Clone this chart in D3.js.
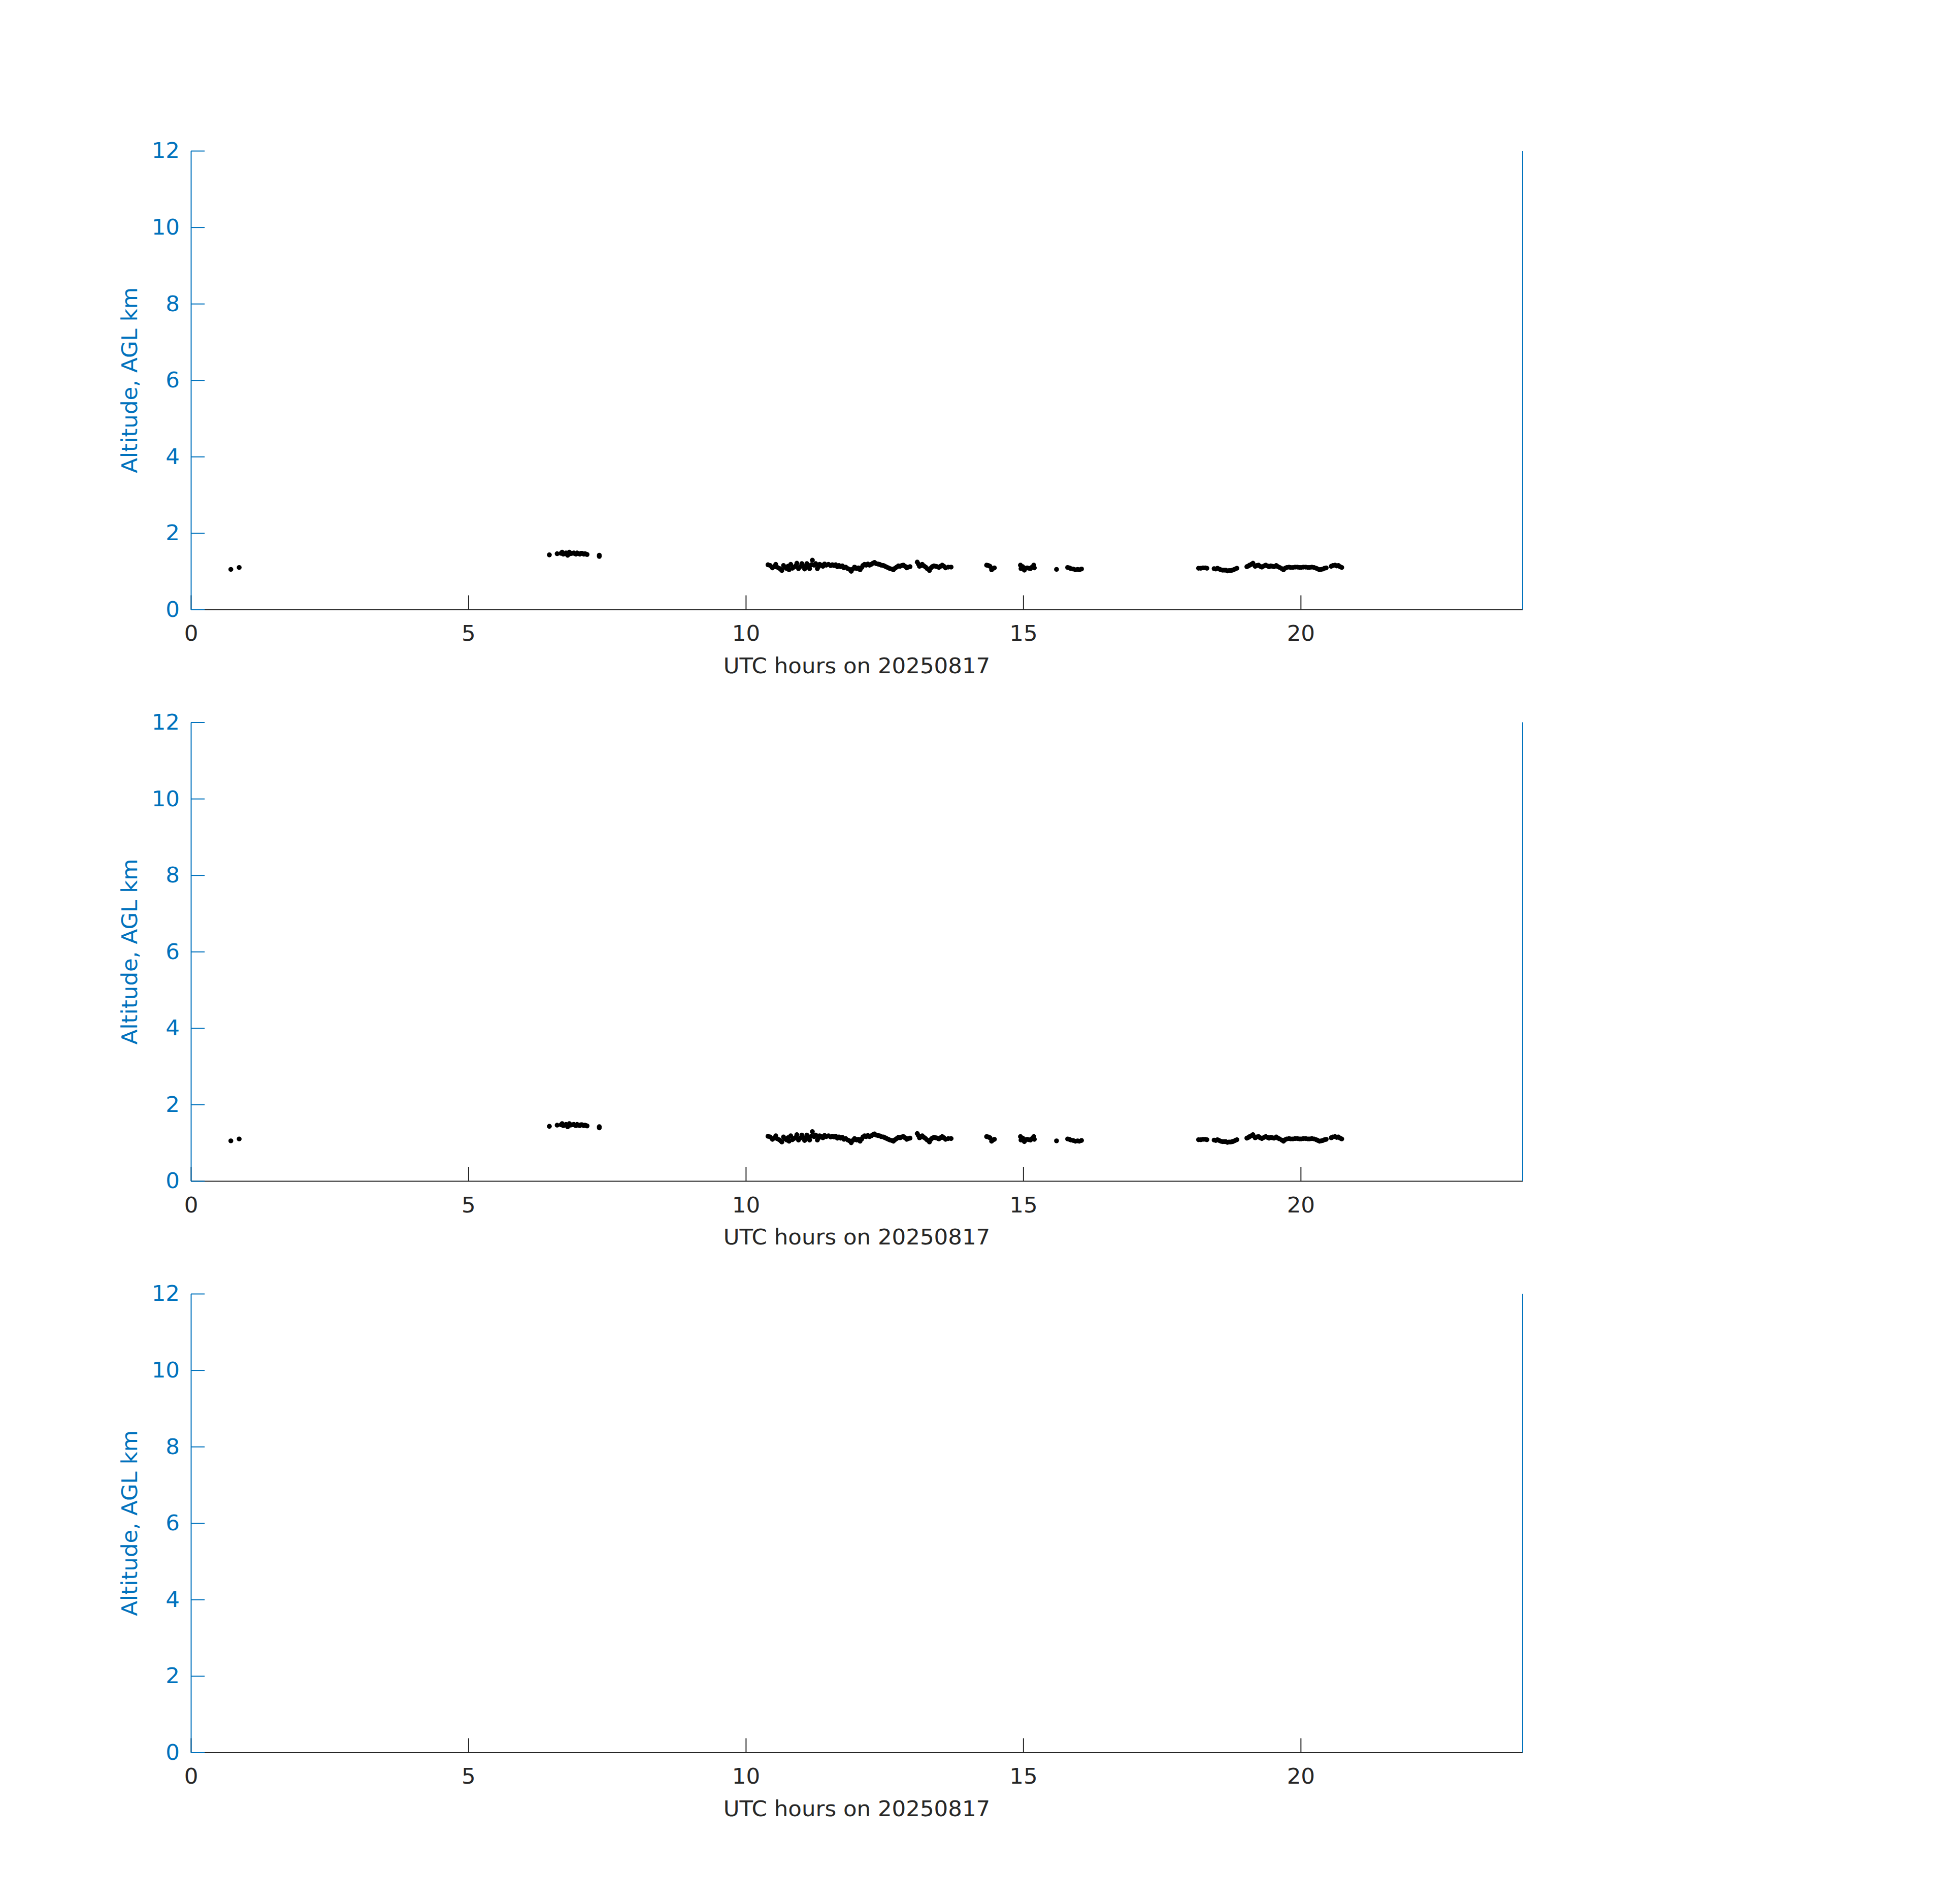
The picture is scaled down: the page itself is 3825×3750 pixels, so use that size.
<!DOCTYPE html>
<html lang="en">
<head>
<meta charset="UTF-8">
<title>Altitude, AGL km</title>
<script src="https://cdn.jsdelivr.net/npm/d3@7"></script>
<style>
  body{ margin:0; padding:0; background:#fff; }
  text{ font-family:"DejaVu Sans", sans-serif; }

  .xAxis path, .xAxis line{ stroke:#262626; stroke-width:2; }
  .xAxis text{ fill:#262626; font-size:43.5px; }

  .yAxis path, .yAxis line{ stroke:#0072bd; stroke-width:2; }
  .yAxis text{ fill:#0072bd; font-size:43.5px; }

  .rightLine{ stroke:#0072bd; stroke-width:2; }
  .xLabel{ fill:#262626; font-size:43.5px; }
  .yLabel{ fill:#0072bd; font-size:43.5px; }
  .dot{ fill:#000; }
</style>
</head>
<body>
<div id="chart"></div>
<script>

// cloud base points (UTC hour, km AGL)
let utcHours = [
  0.72, 0.87,
  6.46, 6.60, 6.67, 6.71, 6.76, 6.79, 6.82, 6.87, 6.92, 6.96, 7.01, 7.05, 7.10, 7.14, 7.36, 7.36,
  10.40, 10.48, 10.54, 10.56, 10.65, 10.68, 10.74, 10.78, 10.81, 10.87, 10.92, 10.95, 11.01, 11.06,
  11.10, 11.15, 11.20, 11.23, 11.29, 11.33, 11.39, 11.45, 11.53, 11.59, 11.65, 11.71, 11.77, 11.84,
  11.90, 11.96, 12.00, 12.06, 12.11, 12.17, 12.23, 12.29, 12.35, 12.41, 12.48, 12.54, 12.60, 12.66,
  12.72, 12.78, 12.84, 12.90, 12.96, 13.09, 13.13, 13.18, 13.24, 13.31, 13.36, 13.42, 13.48, 13.54,
  13.60, 13.70,
  14.34, 14.40, 14.43, 14.48,
  14.95, 14.96, 15.02, 15.07, 15.13, 15.19, 15.20,
  15.60,
  15.80, 15.86, 15.94, 16.01, 16.05,
  18.16, 18.24, 18.31,
  18.44, 18.50, 18.56, 18.62, 18.68, 18.74, 18.79, 18.85,
  19.03, 19.08, 19.14, 19.18, 19.24, 19.30, 19.37, 19.43, 19.49, 19.56, 19.62, 19.69, 19.75, 19.82,
  19.90, 19.98, 20.05, 20.13, 20.20, 20.28, 20.34, 20.40, 20.46,
  20.55, 20.62, 20.68, 20.74,
  // fill-in points along the thick parts of the band
  6.69, 6.74, 6.84, 6.90, 6.94, 6.99, 7.03, 7.08, 7.12,
  10.44, 10.51, 10.60, 10.63, 10.71, 10.76, 10.84, 10.90, 10.98, 11.03, 11.08, 11.13, 11.18, 11.26,
  11.31, 11.36, 11.42, 11.49, 11.56, 11.62, 11.68, 11.74, 11.80, 11.87, 11.93, 11.98, 12.03, 12.09,
  12.14, 12.20, 12.26, 12.32, 12.38, 12.44, 12.51, 12.57, 12.63, 12.69, 12.75, 12.81, 12.87, 12.93,
  13.11, 13.16, 13.21, 13.27, 13.34, 13.39, 13.45, 13.51, 13.57, 13.65,
  14.37, 14.45, 14.99, 15.04, 15.10, 15.16, 15.18, 15.83, 15.90, 15.98,
  18.20, 18.28, 18.47, 18.53, 18.59, 18.65, 18.71, 18.77, 18.82,
  19.06, 19.11, 19.21, 19.27, 19.34, 19.40, 19.46, 19.52, 19.59, 19.66, 19.72, 19.79, 19.86, 19.94,
  20.01, 20.09, 20.16, 20.24, 20.31, 20.37, 20.43, 20.58, 20.65, 20.71
];

let altitudeKm = [
  1.05, 1.10,
  1.43, 1.46, 1.47, 1.45, 1.48, 1.42, 1.50, 1.47, 1.46, 1.48, 1.45, 1.47, 1.46, 1.44, 1.42, 1.39,
  1.17, 1.09, 1.18, 1.11, 1.02, 1.15, 1.07, 1.04, 1.18, 1.11, 1.21, 1.07, 1.20, 1.06,
  1.20, 1.07, 1.29, 1.16, 1.07, 1.18, 1.13, 1.16, 1.15, 1.15, 1.12, 1.12, 1.09, 1.07,
  1.00, 1.11, 1.07, 1.04, 1.15, 1.16, 1.16, 1.21, 1.20, 1.18, 1.15, 1.11, 1.07, 1.04,
  1.11, 1.13, 1.16, 1.09, 1.12, 1.24, 1.13, 1.18, 1.11, 1.02, 1.12, 1.13, 1.10, 1.16,
  1.09, 1.11,
  1.16, 1.13, 1.04, 1.09,
  1.16, 1.07, 1.03, 1.09, 1.07, 1.16, 1.09,
  1.05,
  1.10, 1.07, 1.04, 1.04, 1.06,
  1.08, 1.09, 1.08,
  1.07, 1.08, 1.04, 1.03, 1.01, 1.02, 1.04, 1.08,
  1.12, 1.16, 1.21, 1.13, 1.16, 1.11, 1.16, 1.12, 1.13, 1.15, 1.10, 1.04, 1.10, 1.10,
  1.11, 1.10, 1.11, 1.10, 1.11, 1.08, 1.04, 1.06, 1.09,
  1.13, 1.16, 1.15, 1.10,
  // fill-in points
  1.50, 1.46, 1.46, 1.48, 1.45, 1.46, 1.47, 1.45, 1.45,
  1.15, 1.12, 1.08, 1.05, 1.10, 1.13, 1.08, 1.14, 1.12, 1.14, 1.11, 1.14, 1.17, 1.20,
  1.12, 1.16, 1.19, 1.18, 1.17, 1.17, 1.15, 1.14, 1.11, 1.05, 1.06, 1.09, 1.09, 1.10,
  1.18, 1.19, 1.18, 1.23, 1.19, 1.16, 1.13, 1.09, 1.06, 1.08, 1.14, 1.15, 1.13, 1.11,
  1.19, 1.15, 1.14, 1.07, 1.09, 1.14, 1.12, 1.13, 1.13, 1.11,
  1.15, 1.07, 1.12, 1.08, 1.08, 1.11, 1.13, 1.09, 1.06, 1.05,
  1.08, 1.09, 1.06, 1.06, 1.03, 1.03, 1.02, 1.03, 1.06,
  1.14, 1.18, 1.15, 1.13, 1.14, 1.14, 1.14, 1.12, 1.12, 1.07, 1.08, 1.11, 1.10, 1.11,
  1.10, 1.11, 1.10, 1.10, 1.06, 1.05, 1.08, 1.15, 1.14, 1.12
];

let xTickValues = [0, 5, 10, 15, 20];
let yTickValues = [0, 2, 4, 6, 8, 10, 12];
let panelShowsData = [true, true, false];

let xLabelText = "UTC hours on 20250817";
let yLabelText = "Altitude, AGL km";

let points = utcHours.map(function(h, i){ return { hour: h, km: altitudeKm[i] }; });

let svgW = 3825, svgH = 3750;
let left = 376, width = 2623, height = 903.5;
let firstTop = 297, panelStep = 1125.5;

let svg = d3.select("#chart").append("svg")
    .attr("width", svgW)
    .attr("height", svgH);

let x = d3.scaleLinear().domain([0, 24]).range([0, width]);
let y = d3.scaleLinear().domain([0, 12]).range([height, 0]);

panelShowsData.forEach(function(show, p){
  let g = svg.append("g")
      .attr("transform", "translate(" + left + "," + (firstTop + p * panelStep) + ")");

  g.append("g").attr("class", "xAxis")
      .attr("transform", "translate(0," + height + ")")
      .call(d3.axisBottom(x).tickValues(xTickValues).tickSizeInner(-28).tickSizeOuter(0).tickPadding(31));

  // right side line only, no ticks
  g.append("line").attr("class", "rightLine")
      .attr("x1", width).attr("x2", width)
      .attr("y1", 0).attr("y2", height);

  g.append("g").attr("class", "yAxis")
      .call(d3.axisLeft(y).tickValues(yTickValues).tickSizeInner(-27).tickSizeOuter(0).tickPadding(22));

  g.append("text").attr("class", "xLabel")
      .attr("x", width / 2)
      .attr("y", height + 125)
      .style("text-anchor", "middle")
      .text(xLabelText);

  g.append("text").attr("class", "yLabel")
      .attr("transform", "translate(-106," + (height / 2) + ") rotate(-90)")
      .style("text-anchor", "middle")
      .text(yLabelText);

  if(show){
    g.append("g").selectAll("circle")
      .data(points)
      .enter().append("circle")
        .attr("class", "dot")
        .attr("cx", function(d){ return x(d.hour); })
        .attr("cy", function(d){ return y(d.km); })
        .attr("r", 4.8);
  }
});

</script>
</body>
</html>
